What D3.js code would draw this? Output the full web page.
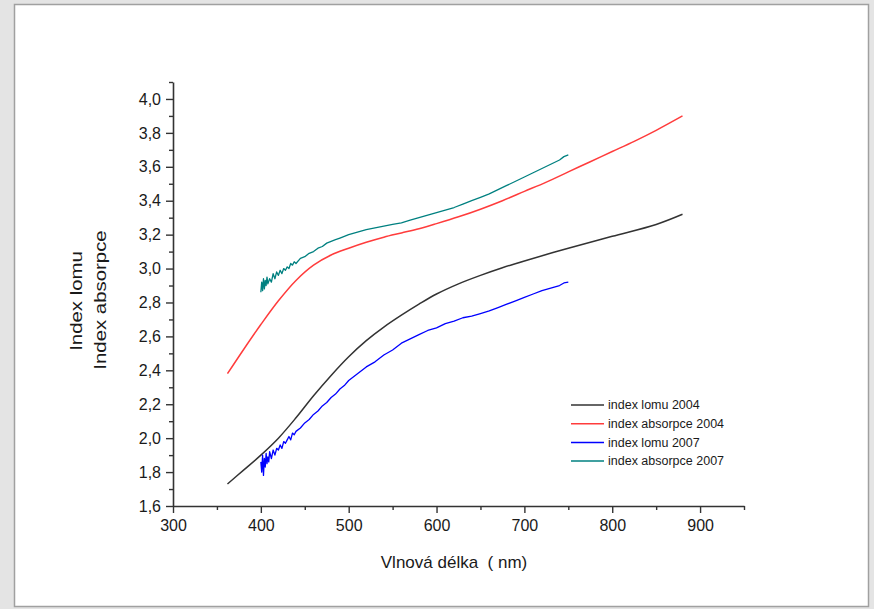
<!DOCTYPE html>
<html>
<head>
<meta charset="utf-8">
<script src="https://cdn.jsdelivr.net/npm/d3@7"></script>
<style>
  html, body { margin: 0; padding: 0; background: #e4e4e4; }
  svg { display: block; }
  text { font-family: "Liberation Sans", Arial, sans-serif; fill: #1a1a1a; }
</style>
</head>
<body>
<svg id="chart" width="874" height="609"></svg>
<script>
// ---------------- data ----------------
const xTicks = [300, 400, 500, 600, 700, 800, 900];
const xMinorTicks = [350, 450, 550, 650, 750, 850, 950];
const yTicks = [1.6, 1.8, 2.0, 2.2, 2.4, 2.6, 2.8, 3.0, 3.2, 3.4, 3.6, 3.8, 4.0];
const yMinorTicks = [1.7, 1.9, 2.1, 2.3, 2.5, 2.7, 2.9, 3.1, 3.3, 3.5, 3.7, 3.9, 4.1];

const seriesNames = ["index lomu 2004", "index absorpce 2004", "index lomu 2007", "index absorpce 2007"];
const seriesColors = ["#333333", "#ff3c3c", "#0000ff", "#008080"];

// index lomu 2004 (smooth)
const lomu2004_x = [362, 380, 400, 420, 440, 460, 480, 500, 520, 540, 560, 580, 600, 625, 650, 675, 700, 750, 800, 850, 880];
const lomu2004_y = [1.73, 1.81, 1.90, 2.00, 2.12, 2.25, 2.37, 2.48, 2.575, 2.655, 2.725, 2.79, 2.85, 2.91, 2.96, 3.005, 3.045, 3.12, 3.19, 3.26, 3.32];

// index absorpce 2004 (smooth)
const abs2004_x = [362, 380, 400, 420, 440, 460, 480, 500, 520, 540, 560, 580, 600, 625, 650, 675, 700, 725, 750, 775, 800, 825, 850, 880];
const abs2004_y = [2.38, 2.52, 2.67, 2.81, 2.93, 3.02, 3.08, 3.12, 3.155, 3.185, 3.21, 3.235, 3.265, 3.305, 3.35, 3.40, 3.455, 3.51, 3.57, 3.63, 3.69, 3.75, 3.815, 3.90];

// index lomu 2007 (measured, noisy)
const lomu2007_x = [400, 401, 402, 403, 404, 405, 406, 407, 408, 409, 410, 412, 414, 416, 418, 420, 422, 424, 426, 428, 430, 432, 434, 436, 438, 440, 445, 450, 455, 460, 465, 470, 475, 480, 485, 490, 495, 500, 510, 520, 530, 540, 550, 560, 570, 580, 590, 600, 610, 620, 630, 640, 650, 660, 670, 680, 690, 700, 710, 720, 730, 740, 745, 750];
const lomu2007_y = [1.86, 1.80, 1.90, 1.78, 1.88, 1.83, 1.91, 1.85, 1.89, 1.86, 1.92, 1.88, 1.93, 1.90, 1.94, 1.93, 1.96, 1.94, 1.98, 1.97, 1.99, 2.01, 1.99, 2.03, 2.02, 2.04, 2.06, 2.09, 2.11, 2.14, 2.16, 2.19, 2.21, 2.24, 2.26, 2.29, 2.31, 2.34, 2.38, 2.42, 2.45, 2.49, 2.52, 2.56, 2.585, 2.61, 2.635, 2.65, 2.675, 2.69, 2.71, 2.72, 2.735, 2.75, 2.77, 2.79, 2.81, 2.83, 2.85, 2.87, 2.885, 2.90, 2.915, 2.92];

// index absorpce 2007 (measured, noisy)
const abs2007_x = [400, 401, 402, 403, 404, 405, 406, 407, 408, 410, 412, 414, 416, 418, 420, 422, 424, 426, 428, 430, 432, 434, 436, 438, 440, 445, 450, 455, 460, 465, 470, 475, 480, 485, 490, 495, 500, 510, 520, 530, 540, 550, 560, 570, 580, 590, 600, 610, 620, 630, 640, 650, 660, 670, 680, 690, 700, 710, 720, 730, 740, 745, 750];
const abs2007_y = [2.86, 2.92, 2.87, 2.94, 2.88, 2.93, 2.90, 2.95, 2.91, 2.94, 2.92, 2.97, 2.94, 2.98, 2.96, 2.99, 2.97, 3.00, 2.99, 3.01, 3.00, 3.03, 3.02, 3.04, 3.03, 3.06, 3.07, 3.09, 3.10, 3.12, 3.13, 3.15, 3.16, 3.17, 3.18, 3.19, 3.20, 3.215, 3.23, 3.24, 3.25, 3.26, 3.27, 3.285, 3.30, 3.315, 3.33, 3.345, 3.36, 3.38, 3.40, 3.42, 3.44, 3.465, 3.49, 3.515, 3.54, 3.565, 3.59, 3.615, 3.64, 3.66, 3.67];

// ---------------- drawing ----------------
const svg = d3.select("#chart");

// page panel
svg.append("rect")
  .attr("x", 14.5).attr("y", 4.5)
  .attr("width", 854).attr("height", 602)
  .attr("fill", "#ffffff")
  .attr("stroke", "#a0a0a0").attr("stroke-width", 1.5);

const x = d3.scaleLinear().domain([300, 950]).range([173, 744]);
const y = d3.scaleLinear().domain([1.6, 4.1]).range([506, 82]);

const fmt = v => d3.format(".1f")(v).replace(".", ",");

// x axis
const gx = svg.append("g").attr("transform", `translate(0,${y(1.6)})`);
gx.call(d3.axisBottom(x).tickValues(xTicks).tickSize(7).tickPadding(7).tickSizeOuter(0).tickFormat(d3.format("d")));
const gxm = svg.append("g").attr("transform", `translate(0,${y(1.6)})`);
gxm.call(d3.axisBottom(x).tickValues(xMinorTicks).tickSize(4).tickSizeOuter(0).tickFormat(""));
gxm.select(".domain").remove();

// y axis
const gy = svg.append("g").attr("transform", `translate(${x(300)},0)`);
gy.call(d3.axisLeft(y).tickValues(yTicks).tickSize(7).tickPadding(5).tickSizeOuter(0).tickFormat(fmt));
const gym = svg.append("g").attr("transform", `translate(${x(300)},0)`);
gym.call(d3.axisLeft(y).tickValues(yMinorTicks).tickSize(4).tickSizeOuter(0).tickFormat(""));
gym.select(".domain").remove();

svg.selectAll(".domain").attr("stroke", "#333").attr("stroke-width", 1.6);
svg.selectAll(".tick line").attr("stroke", "#333").attr("stroke-width", 1.4);
svg.selectAll(".tick text").attr("font-size", 16).attr("fill", "#1a1a1a")
  .attr("font-family", "'Liberation Sans', Arial, sans-serif");

// axis titles
svg.append("text")
  .attr("x", 454).attr("y", 568)
  .attr("text-anchor", "middle")
  .attr("font-size", 17)
  .attr("xml:space", "preserve")
  .text("Vlnová délka  ( nm)");

svg.append("text")
  .attr("transform", "translate(82,301) rotate(-90) scale(1.2,1)")
  .attr("text-anchor", "middle")
  .attr("font-size", 17)
  .text("Index lomu");
svg.append("text")
  .attr("transform", "translate(106,300) rotate(-90) scale(1.2,1)")
  .attr("text-anchor", "middle")
  .attr("font-size", 17)
  .text("Index absorpce");

// lines
const seriesData = [
  { xs: lomu2004_x, ys: lomu2004_y, curve: d3.curveCatmullRom.alpha(0.5), w: 1.5 },
  { xs: abs2004_x, ys: abs2004_y, curve: d3.curveCatmullRom.alpha(0.5), w: 1.5 },
  { xs: lomu2007_x, ys: lomu2007_y, curve: d3.curveLinear, w: 1.3 },
  { xs: abs2007_x, ys: abs2007_y, curve: d3.curveLinear, w: 1.3 }
];

seriesData.forEach((s, i) => {
  const pts = s.xs.map((xv, j) => [xv, s.ys[j]]);
  const line = d3.line().x(d => x(d[0])).y(d => y(d[1])).curve(s.curve);
  svg.append("path")
    .datum(pts)
    .attr("d", line)
    .attr("fill", "none")
    .attr("stroke", seriesColors[i])
    .attr("stroke-width", s.w)
    .attr("stroke-linejoin", "round");
});

// legend
const lg = svg.append("g");
seriesNames.forEach((name, i) => {
  const yy = 405 + i * 18.7;
  lg.append("line")
    .attr("x1", 571).attr("x2", 604)
    .attr("y1", yy).attr("y2", yy)
    .attr("stroke", seriesColors[i]).attr("stroke-width", 1.5);
  lg.append("text")
    .attr("x", 608).attr("y", yy + 4.2)
    .attr("font-size", 12.5)
    .text(name);
});
</script>
</body>
</html>
